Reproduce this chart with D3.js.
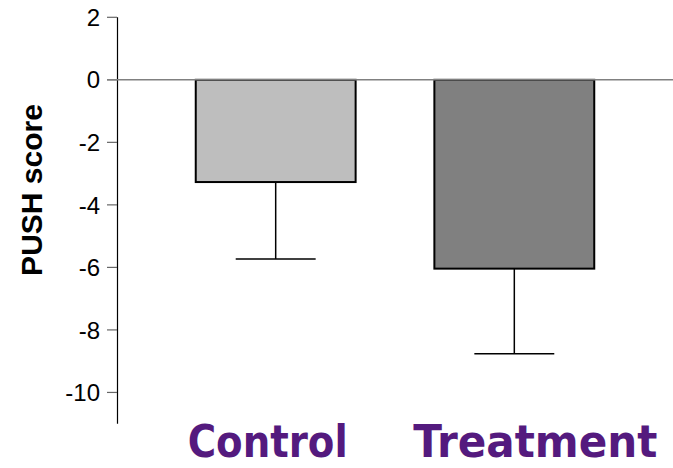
<!DOCTYPE html>
<html>
<head>
<meta charset="utf-8">
<script src="https://cdn.jsdelivr.net/npm/d3@7"></script>
<style>
  body { margin: 0; background: #fff; }
  svg { display: block; }
</style>
</head>
<body>
<svg id="svg1" width="673" height="468"></svg>
<script>
// PUSH score bar chart, two groups with lower error bars

var groups = ["Control", "Treatment"];
var means = [-3.27, -6.04];
var errLow = [-5.73, -8.76];        // end of error whisker
var fills = ["#bebebe", "#808080"];
var yTicks = [2, 0, -2, -4, -6, -8, -10];

var svg = d3.select("#svg1");

var y = d3.scaleLinear()
    .domain([-11, 2])
    .range([423.7, 17.3]);

var x = d3.scaleBand()
    .domain(groups)
    .range([117, 673])
    .paddingInner(0.33)
    .paddingOuter(0.33);

// y axis line
svg.append("line")
    .attr("x1", 117.5).attr("x2", 117.5)
    .attr("y1", y(2)).attr("y2", y(-11))
    .attr("stroke", "#000").attr("stroke-width", 1.2);

// ticks + labels
svg.selectAll(".tick")
    .data(yTicks)
    .enter().append("line")
    .attr("class", "tick")
    .attr("x1", 107).attr("x2", 117)
    .attr("y1", function(d) { return y(d); })
    .attr("y2", function(d) { return y(d); })
    .attr("stroke", "#666").attr("stroke-width", 1.2);

svg.selectAll(".tlab")
    .data(yTicks)
    .enter().append("text")
    .attr("class", "tlab")
    .attr("x", 100)
    .attr("y", function(d) { return y(d); })
    .attr("dy", "0.36em")
    .attr("text-anchor", "end")
    .attr("font-family", "Liberation Sans, Arial, sans-serif")
    .attr("font-size", 24)
    .attr("fill", "#000")
    .text(function(d) { return d; });

// bars
svg.selectAll(".bar")
    .data(groups)
    .enter().append("rect")
    .attr("class", "bar")
    .attr("x", function(d) { return x(d); })
    .attr("y", y(0))
    .attr("width", x.bandwidth())
    .attr("height", function(d, i) { return y(means[i]) - y(0); })
    .attr("fill", function(d, i) { return fills[i]; })
    .attr("stroke", "#000")
    .attr("stroke-width", 2);

// zero line
svg.append("line")
    .attr("x1", 107).attr("x2", 673)
    .attr("y1", y(0)).attr("y2", y(0))
    .attr("stroke", "#808080").attr("stroke-width", 1.5);

// error bars
var cx = function(d) { return x(d) + x.bandwidth() / 2; };
svg.selectAll(".err")
    .data(groups)
    .enter().append("line")
    .attr("class", "err")
    .attr("x1", cx).attr("x2", cx)
    .attr("y1", function(d, i) { return y(means[i]); })
    .attr("y2", function(d, i) { return y(errLow[i]); })
    .attr("stroke", "#000").attr("stroke-width", 1.5);

svg.selectAll(".cap")
    .data(groups)
    .enter().append("line")
    .attr("class", "cap")
    .attr("x1", function(d) { return cx(d) - x.bandwidth() / 4; })
    .attr("x2", function(d) { return cx(d) + x.bandwidth() / 4; })
    .attr("y1", function(d, i) { return y(errLow[i]); })
    .attr("y2", function(d, i) { return y(errLow[i]); })
    .attr("stroke", "#000").attr("stroke-width", 1.5);

// group labels (purple, handwritten look in original)
var labShift = [-88, -101];
var labLen = [160, 244];
svg.selectAll(".glab")
    .data(groups)
    .enter().append("text")
    .attr("class", "glab")
    .attr("x", function(d, i) { return cx(d) + labShift[i]; })
    .attr("y", 457)
    .attr("textLength", function(d, i) { return labLen[i]; })
    .attr("lengthAdjust", "spacingAndGlyphs")
    .attr("font-family", "DejaVu Sans Condensed, DejaVu Sans, sans-serif")
    .attr("font-weight", "bold")
    .attr("font-size", 45)
    .attr("fill", "#541a7e")
    .text(function(d) { return d; });

// y axis title
svg.append("text")
    .attr("transform", "translate(42,190) rotate(-90)")
    .attr("text-anchor", "middle")
    .attr("font-family", "Liberation Sans, Arial, sans-serif")
    .attr("font-weight", "bold")
    .attr("font-size", 30)
    .attr("fill", "#000")
    .text("PUSH score");
</script>
</body>
</html>
